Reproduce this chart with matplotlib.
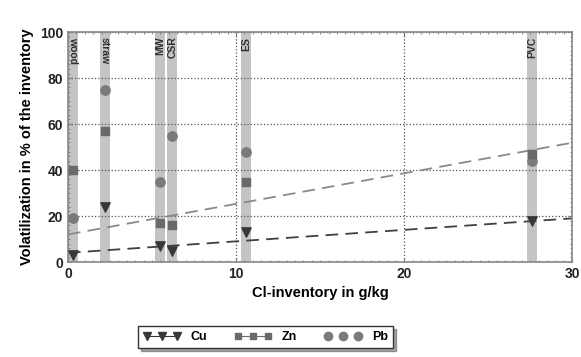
import matplotlib
matplotlib.use("Agg")
import matplotlib.pyplot as plt
import numpy as np

# Cl-inventory (g/kg) of each fuel and volatilized share of the metals (%)
fuels = ["wood", "straw", "MW", "CSR", "ES", "PVC"]
label_rotation = [270, 270, 90, 90, 90, 90]
cl_inventory = [0.3, 2.2, 5.5, 6.2, 10.6, 27.6]
cu = [3, 24, 7, 5, 13, 18]
zn = [40, 57, 17, 16, 35, 47]
pb = [19, 75, 35, 55, 48, 44]

# trend lines: (intercept, slope)
trend_upper = (12.0, 1.33)
trend_lower = (4.0, 0.5)


def main():
    plt.rcParams['font.family'] = 'Liberation Sans'
    plt.rcParams['font.weight'] = 'bold'

    fig = plt.figure(figsize=(5.81, 3.57), dpi=100)
    ax = fig.add_axes([0.117, 0.266, 0.868, 0.644])

    # grey bands marking each fuel
    for name, x, rot in zip(fuels, cl_inventory, label_rotation):
        ax.axvspan(x - 0.3, x + 0.3, color='#c4c4c4', lw=0, zorder=1)
        ax.text(x, 98, name, rotation=rot, ha='center', va='top',
                fontsize=7.5, fontweight='bold', color='#303030', zorder=4)

    xs = np.array([0, 30])
    ax.plot(xs, trend_upper[0] + trend_upper[1] * xs, ls=(0, (7, 4)),
            color='#8a8a8a', lw=1.3, zorder=2)
    ax.plot(xs, trend_lower[0] + trend_lower[1] * xs, ls=(0, (7, 4)),
            color='#404040', lw=1.3, zorder=2)

    ax.scatter(cl_inventory, pb, marker='o', s=45, color='#7a7a7a', zorder=3)
    ax.scatter(cl_inventory, zn, marker='s', s=40, color='#6a6a6a', zorder=3)
    ax.scatter(cl_inventory, cu, marker='v', s=45, color='#383838', zorder=3)

    ax.set_xlim(0, 30)
    ax.set_ylim(0, 100)
    ax.set_xticks([0, 10, 20, 30])
    ax.set_yticks(range(0, 101, 20))
    ax.set_xticks(np.arange(0, 30.1, 0.5), minor=True)
    ax.set_yticks(np.arange(0, 101, 2), minor=True)
    ax.tick_params(which='both', direction='in', top=True, right=True,
                   colors='#777777', labelcolor='#222222', labelsize=10)
    ax.tick_params(which='major', length=3)
    ax.tick_params(which='minor', length=1.5)
    ax.grid(True, ls=':', color='#555555', lw=0.9)
    for s in ax.spines.values():
        s.set_color('#888888')
        s.set_linewidth(1.2)

    ax.set_xlabel('Cl-inventory in g/kg', fontsize=10.5, fontweight='bold')
    ax.set_ylabel('Volatilization in % of the inventory', fontsize=10.5,
                  fontweight='bold')

    h_cu, = ax.plot([], [], marker='v', color='#383838', ls='-', lw=0.8, ms=6)
    h_zn, = ax.plot([], [], marker='s', color='#6a6a6a', ls='-', lw=0.8, ms=5)
    h_pb, = ax.plot([], [], marker='o', color='#7a7a7a', ls='none', ms=6)
    leg = fig.legend([h_cu, h_zn, h_pb], ['Cu', 'Zn', 'Pb'], ncol=3,
                     numpoints=3, loc='center', bbox_to_anchor=(0.457, 0.055),
                     fontsize=9, frameon=True, fancybox=False, shadow=True,
                     handlelength=3, columnspacing=2.2, borderpad=0.4)
    leg.get_frame().set_edgecolor('#333333')

    fig.savefig('out.png', dpi=100, facecolor='white')


if __name__ == "__main__":
    main()
